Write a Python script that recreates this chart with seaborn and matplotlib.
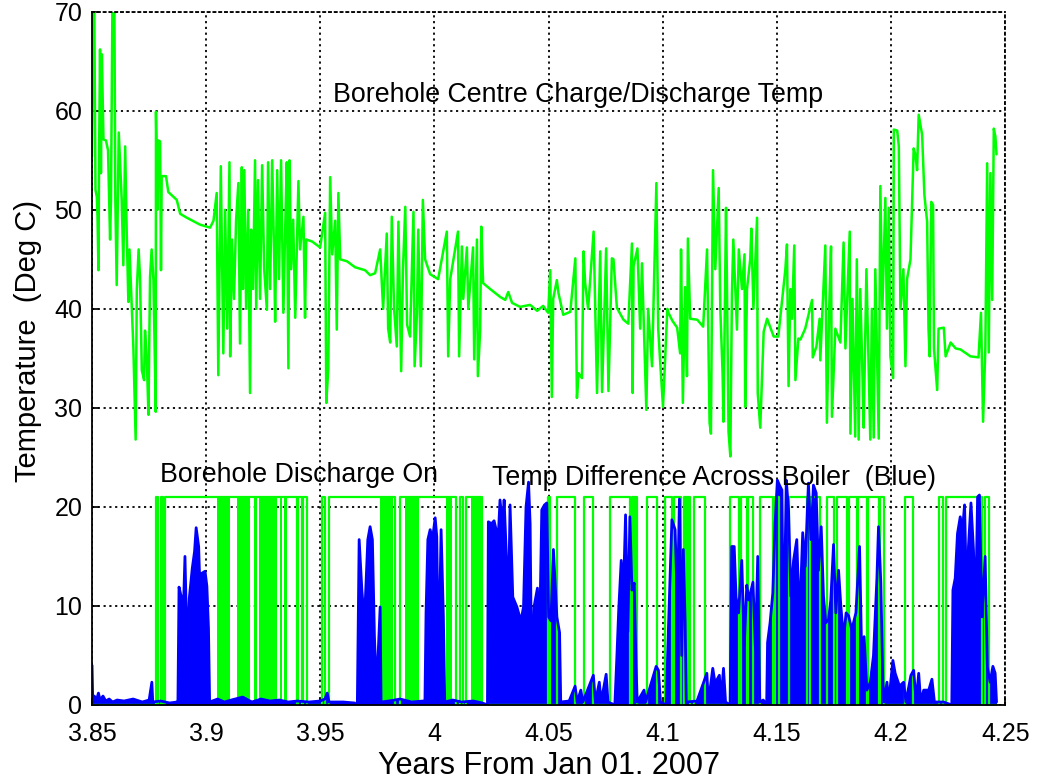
import numpy as np
import pandas as pd
import matplotlib
matplotlib.use("Agg")
import matplotlib.pyplot as plt
import seaborn as sns

sns.set_theme(style="white")
plt.rcParams['font.family'] = ['Liberation Sans', 'DejaVu Sans']
plt.rcParams['text.color'] = 'black'
plt.rcParams['axes.labelcolor'] = 'black'
plt.rcParams['xtick.color'] = 'black'
plt.rcParams['ytick.color'] = 'black'

# borehole centre charge/discharge temperature (deg C) vs years from Jan 01 2007
temp_t = [3.8500, 3.8504, 3.8510, 3.8515, 3.8521, 3.8524, 3.8528, 3.8531, 3.8535, 3.8539,
          3.8543, 3.8550, 3.8561, 3.8570, 3.8579, 3.8583, 3.8589, 3.8598, 3.8602, 3.8608,
          3.8617, 3.8630, 3.8637, 3.8645, 3.8652, 3.8659, 3.8664, 3.8674, 3.8681, 3.8691,
          3.8696, 3.8704, 3.8710, 3.8718, 3.8728, 3.8732, 3.8740, 3.8747, 3.8754, 3.8761,
          3.8769, 3.8779, 3.8780, 3.8787, 3.8791, 3.8798, 3.8802, 3.8805, 3.8824, 3.8834,
          3.8871, 3.8886, 3.8915, 3.8973, 3.9017, 3.9032,
          3.9046, 3.9053, 3.9064, 3.9070, 3.9075, 3.9083, 3.9092, 3.9102, 3.9105, 3.9113,
          3.9122, 3.9131, 3.9141, 3.9148, 3.9156, 3.9161, 3.9167, 3.9175, 3.9184, 3.9192,
          3.9197, 3.9205, 3.9214, 3.9219, 3.9227, 3.9236, 3.9245, 3.9254, 3.9266, 3.9271,
          3.9280, 3.9289, 3.9298, 3.9302, 3.9311, 3.9319, 3.9328, 3.9338, 3.9346, 3.9353,
          3.9360, 3.9365, 3.9372, 3.9381, 3.9390, 3.9404, 3.9411, 3.9426, 3.9433, 3.9438,
          3.9464, 3.9499, 3.9521, 3.9526, 3.9535, 3.9543, 3.9552, 3.9565, 3.9572, 3.9579,
          3.9587, 3.9617, 3.9652, 3.9696, 3.9718, 3.9740, 3.9762, 3.9775, 3.9791, 3.9797,
          3.9806, 3.9813, 3.9823, 3.9835, 3.9842, 3.9854, 3.9862, 3.9872, 3.9880, 3.9893,
          3.9908, 3.9913, 3.9923, 3.9929, 3.9940, 3.9949, 3.9959, 3.9981, 4.0016, 4.0054,
          4.0060, 4.0069, 4.0103, 4.0108, 4.0120, 4.0126, 4.0142, 4.0148, 4.0169, 4.0174,
          4.0186, 4.0190, 4.0200, 4.0205, 4.0213,
          4.0244, 4.0288, 4.0310, 4.0323, 4.0340, 4.0375, 4.0419, 4.0450, 4.0476,
          4.0498, 4.0507, 4.0514, 4.0520, 4.0536, 4.0543, 4.0564, 4.0595, 4.0617, 4.0624,
          4.0631, 4.0646, 4.0653, 4.0660, 4.0673, 4.0697, 4.0712, 4.0726, 4.0734, 4.0752,
          4.0762, 4.0777, 4.0784, 4.0799, 4.0828, 4.0849, 4.0865, 4.0868, 4.0872, 4.0889,
          4.0901, 4.0909, 4.0928, 4.0936, 4.0953, 4.0972, 4.0980, 4.0989, 4.1001, 4.1011,
          4.1020, 4.1025,
          4.1042, 4.1063, 4.1076, 4.1080, 4.1088, 4.1098, 4.1106, 4.1110, 4.1120, 4.1151,
          4.1177, 4.1194, 4.1205, 4.1211, 4.1220, 4.1230, 4.1245, 4.1252, 4.1262, 4.1266,
          4.1277, 4.1281, 4.1288, 4.1296, 4.1303, 4.1309, 4.1325, 4.1333, 4.1347, 4.1358,
          4.1361, 4.1369, 4.1383, 4.1388, 4.1397, 4.1413, 4.1416, 4.1427, 4.1442, 4.1457,
          4.1486, 4.1506,
          4.1537, 4.1544, 4.1551, 4.1559, 4.1566, 4.1576, 4.1581, 4.1594, 4.1603, 4.1624,
          4.1654, 4.1657, 4.1673, 4.1687, 4.1690, 4.1712, 4.1719, 4.1729, 4.1737, 4.1741,
          4.1756, 4.1778, 4.1792, 4.1800, 4.1819, 4.1822, 4.1831, 4.1843, 4.1850, 4.1858,
          4.1865, 4.1874, 4.1880, 4.1892, 4.1909, 4.1916, 4.1924, 4.1931, 4.1946,
          4.1953, 4.1962, 4.1975, 4.1982, 4.1990, 4.1997, 4.2009, 4.2012, 4.2027, 4.2034,
          4.2041, 4.2054, 4.2063, 4.2070, 4.2085, 4.2099, 4.2107, 4.2114, 4.2121, 4.2136,
          4.2146, 4.2158, 4.2164, 4.2169, 4.2176, 4.2184, 4.2188, 4.2202, 4.2208, 4.2231,
          4.2239, 4.2261, 4.2283, 4.2304, 4.2348, 4.2383, 4.2394, 4.2403, 4.2413, 4.2421,
          4.2428, 4.2435, 4.2443, 4.2450, 4.2457, 4.2462]
temp_v = [55.4, 70.0, 70.0, 52.0, 51.3, 49.3, 43.9, 56.0, 66.2, 53.7,
          65.7, 57.1, 57.0, 56.0, 47.0, 51.0, 70.0, 70.0, 51.0, 42.4,
          57.8, 51.0, 44.4, 56.4, 47.6, 40.7, 46.0, 40.1, 36.1, 26.8,
          41.9, 46.0, 43.2, 33.8, 32.8, 37.8, 34.9, 29.3, 43.2, 46.0,
          42.9, 29.6, 59.9, 50.0, 57.0, 56.9, 43.9, 53.4, 53.4, 51.8,
          51.0, 49.6, 49.2, 48.5, 48.2, 48.9,
          51.7, 33.3, 54.4, 44.0, 35.5, 50.0, 38.0, 54.8, 35.2, 47.0,
          41.0, 49.0, 52.7, 36.5, 54.3, 42.0, 54.0, 40.0, 50.0, 31.5,
          48.0, 42.0, 55.0, 40.0, 53.0, 41.0, 54.5, 44.0, 39.9, 54.8,
          42.0, 55.0, 45.0, 38.7, 54.0, 43.0, 55.0, 39.6, 48.0, 54.8,
          34.0, 55.0, 44.0, 49.0, 39.1, 52.9, 46.0, 49.3, 39.1, 47.0,
          46.8, 46.2, 49.7, 30.5, 34.0, 53.3, 45.5, 48.9, 37.9, 51.7,
          45.0, 44.8, 44.2, 43.9, 43.4, 43.6, 46.0, 40.0, 47.6, 38.0,
          36.6, 49.3, 40.0, 36.2, 48.8, 33.7, 44.0, 50.3, 38.4, 37.2,
          49.8, 34.2, 39.4, 48.0, 34.2, 51.0, 45.0, 43.5, 43.0, 47.8,
          35.2, 43.0, 47.8, 35.2, 46.3, 41.0, 46.2, 40.0, 46.2, 34.9,
          47.0, 33.2, 37.8, 48.3, 42.6,
          42.0, 41.2, 40.9, 41.7, 40.6, 40.2, 40.4, 39.8, 40.3,
          39.6, 43.9, 31.1, 41.0, 42.9, 41.6, 39.4, 39.7, 45.1, 31.0,
          33.5, 33.0, 45.8, 42.6, 40.0, 47.8, 31.5, 45.8, 31.6, 46.1,
          31.7, 45.1, 45.0, 40.1, 38.9, 38.5, 46.6, 31.5, 44.3, 46.1,
          38.0, 44.6, 29.8, 40.0, 34.2, 52.7, 38.0, 34.5, 30.1, 35.2,
          40.0, 39.6,
          38.8, 38.1, 35.5, 46.0, 30.5, 42.2, 33.2, 47.1, 39.0, 38.9,
          38.2, 46.0, 28.5, 27.4, 54.0, 44.0, 52.2, 40.0, 33.5, 28.6,
          50.2, 43.0, 27.6, 25.1, 41.6, 47.0, 37.9, 46.0, 42.0, 45.5,
          30.1, 42.0, 45.0, 48.1, 40.0, 49.2, 31.5, 28.0, 37.7, 39.0,
          37.2, 37.2,
          44.0, 46.5, 32.2, 42.0, 39.0, 46.4, 32.8, 37.0, 36.9, 38.0,
          40.9, 35.1, 36.2, 39.0, 34.8, 46.4, 28.5, 40.0, 46.3, 29.1,
          38.0, 36.6, 46.7, 36.0, 47.8, 27.4, 41.0, 27.1, 45.0, 26.8,
          42.0, 34.0, 28.0, 44.0, 26.8, 40.0, 27.0, 44.0, 26.9,
          52.4, 40.0, 51.2, 38.0, 50.2, 35.2, 33.0, 58.1, 58.0, 56.4,
          40.0, 44.0, 34.2, 43.0, 45.0, 56.2, 55.5, 54.0, 59.6, 57.6,
          51.5, 48.8, 38.0, 35.2, 50.8, 50.5, 36.0, 31.8, 38.0, 38.1,
          35.2, 36.6, 36.0, 35.9, 35.2, 35.1, 39.6, 28.6, 36.0, 54.7,
          35.6, 53.7, 40.9, 58.2, 57.4, 55.6]

# temp difference across boiler (deg C)
boiler_t = [3.8500, 3.8503, 3.8510, 3.8518, 3.8528, 3.8535, 3.8548, 3.8560, 3.8575, 3.8590,
            3.8610, 3.8640, 3.8680, 3.8720, 3.8750, 3.8762, 3.8766, 3.8800, 3.8840, 3.8872,
            3.8876, 3.8881, 3.8890, 3.8898, 3.8907, 3.8913, 3.8919, 3.8926, 3.8939, 3.8949,
            3.8956, 3.8967, 3.8975, 3.8981, 3.8995, 3.9003, 3.9010, 3.9015,
            3.9050, 3.9080, 3.9110, 3.9160, 3.9200, 3.9240, 3.9280, 3.9320, 3.9360, 3.9400,
            3.9450, 3.9500, 3.9520, 3.9530, 3.9538, 3.9600, 3.9650,
            3.9662, 3.9670, 3.9682, 3.9693, 3.9708, 3.9718, 3.9728, 3.9737, 3.9745, 3.9752,
            3.9762, 3.9766, 3.9800, 3.9850, 3.9900, 3.9950,
            3.9958, 3.9963, 3.9971, 3.9981, 3.9991, 4.0003, 4.0010, 4.0017, 4.0023, 4.0029,
            4.0039, 4.0045, 4.0080, 4.0120, 4.0170, 4.0210,
            4.0232, 4.0236, 4.0250, 4.0261, 4.0270, 4.0280, 4.0287, 4.0299, 4.0305, 4.0314,
            4.0324, 4.0331, 4.0343, 4.0361, 4.0372, 4.0378, 4.0390, 4.0401, 4.0412, 4.0419,
            4.0426, 4.0436, 4.0451, 4.0460, 4.0470, 4.0482, 4.0492, 4.0500, 4.0510, 4.0521,
            4.0536, 4.0548, 4.0553,
            4.0590, 4.0616, 4.0625, 4.0641, 4.0650, 4.0696, 4.0705, 4.0722, 4.0730, 4.0752,
            4.0760,
            4.0790, 4.0799, 4.0807, 4.0818, 4.0828, 4.0837, 4.0847, 4.0856, 4.0865, 4.0875,
            4.0883, 4.0888, 4.0918, 4.0925, 4.0971, 4.0981, 4.0990,
            4.1015, 4.1025, 4.1040, 4.1054, 4.1064, 4.1073, 4.1083, 4.1090, 4.1098, 4.1103,
            4.1150, 4.1193, 4.1200, 4.1219, 4.1229, 4.1248, 4.1255, 4.1266, 4.1275,
            4.1295, 4.1302, 4.1313, 4.1321, 4.1332, 4.1346, 4.1357, 4.1368, 4.1377, 4.1395,
            4.1406, 4.1416, 4.1425, 4.1440,
            4.1455, 4.1459, 4.1470, 4.1482, 4.1492, 4.1502, 4.1511, 4.1522, 4.1529, 4.1541,
            4.1551, 4.1561, 4.1573, 4.1587, 4.1599, 4.1613, 4.1624, 4.1638, 4.1649, 4.1660,
            4.1672, 4.1682, 4.1694, 4.1704, 4.1714, 4.1726, 4.1736, 4.1748, 4.1758, 4.1770,
            4.1780, 4.1792, 4.1803, 4.1814, 4.1828, 4.1846, 4.1862, 4.1872, 4.1882, 4.1894,
            4.1909, 4.1923, 4.1938, 4.1945, 4.1955, 4.1964, 4.1970,
            4.1982, 4.1990, 4.2008, 4.2018, 4.2037, 4.2055, 4.2065, 4.2087, 4.2099, 4.2110,
            4.2121, 4.2130, 4.2143, 4.2165, 4.2179, 4.2190, 4.2230,
            4.2266, 4.2271, 4.2281, 4.2291, 4.2303, 4.2313, 4.2322, 4.2332, 4.2339, 4.2350,
            4.2361, 4.2370, 4.2379, 4.2387, 4.2398, 4.2412, 4.2422, 4.2434, 4.2446, 4.2456,
            4.2462]
boiler_v = [4.0, 0.6, 0.9, 0.4, 1.2, 0.5, 0.9, 0.4, 0.6, 0.3,
            0.5, 0.4, 0.6, 0.3, 0.5, 2.3, 0.3, 0.4, 0.2, 0.3,
            0.0, 11.9, 11.0, 8.0, 15.0, 9.0, 6.4, 10.8, 13.8, 15.5,
            17.9, 16.0, 10.0, 13.3, 13.5, 12.0, 7.8, 0.3,
            0.6, 0.3, 0.5, 0.8, 0.3, 0.6, 0.4, 0.5, 0.3, 0.4,
            0.3, 0.4, 0.6, 1.2, 0.3, 0.3, 0.2,
            0.0, 16.7, 11.6, 8.3, 16.7, 18.0, 16.7, 6.9, 2.0, 4.5,
            9.9, 0.3, 0.4, 0.6, 0.3, 0.4,
            0.0, 9.3, 16.7, 17.7, 16.7, 18.9, 17.0, 5.2, 10.0, 17.7,
            8.9, 0.3, 0.5, 0.3, 0.4, 0.2,
            0.0, 18.5, 18.3, 18.6, 17.7, 17.3, 20.7, 18.0, 20.7, 15.7,
            10.0, 20.2, 10.9, 9.9, 9.0, 8.4, 9.9, 20.0, 22.5, 18.3,
            1.5, 9.9, 11.8, 6.2, 19.7, 20.2, 20.4, 8.9, 8.5, 15.7,
            8.9, 7.3, 0.3,
            0.4, 1.9, 0.3, 1.5, 0.3, 3.0, 0.3, 2.3, 0.3, 3.1,
            0.3,
            0.0, 4.9, 9.6, 14.6, 11.6, 19.2, 7.4, 19.0, 11.6, 12.3,
            4.0, 0.3, 1.5, 0.3, 3.9, 3.5, 0.3,
            0.0, 7.9, 18.7, 17.7, 10.0, 20.8, 5.0, 15.7, 8.4, 0.3,
            0.4, 3.2, 0.3, 3.7, 2.2, 3.0, 0.3, 3.7, 0.3,
            0.0, 16.0, 16.0, 10.9, 9.3, 14.6, 6.0, 12.1, 10.6, 12.4,
            5.6, 15.0, 0.3, 0.5,
            0.0, 6.3, 8.3, 11.3, 18.3, 22.7, 22.2, 21.7, 5.0, 22.7,
            19.7, 11.0, 14.6, 16.7, 8.3, 17.4, 14.0, 22.4, 16.7, 22.2,
            21.4, 13.6, 18.0, 11.0, 8.3, 8.6, 10.6, 16.2, 9.3, 13.6,
            10.0, 6.7, 9.3, 9.0, 7.6, 9.3, 16.0, 4.3, 6.9, 1.5,
            2.3, 5.0, 12.8, 18.0, 12.4, 2.3, 0.3,
            2.3, 0.3, 4.5, 3.2, 1.9, 2.3, 0.3, 3.0, 3.5, 0.3,
            3.2, 0.3, 1.5, 1.5, 2.6, 0.3, 0.3,
            0.0, 11.6, 12.8, 17.3, 19.0, 17.7, 20.2, 9.6, 16.0, 20.4,
            15.7, 8.9, 21.0, 21.2, 8.9, 15.0, 3.8, 2.3, 3.9, 3.2,
            0.3]

# borehole discharge on/off signal: periods when on (drawn at level 21)
on_start = [3.8780, 3.8801, 3.8820, 3.9401, 3.9426, 3.9506, 3.9540, 3.9849, 4.0110, 4.0139,
            4.0499, 4.0536, 4.0653, 4.0769, 4.0864, 4.0930, 4.1010, 4.1050, 4.1091, 4.1135,
            4.1295, 4.1342, 4.1375, 4.1424, 4.1492, 4.1551, 4.1646, 4.1719, 4.1762, 4.1814,
            4.1857, 4.1901, 4.1952, 4.2062, 4.2208, 4.2242, 4.2412]
on_end = [3.8790, 3.8812, 3.9397, 3.9419, 3.9441, 3.9521, 3.9828, 4.0095, 4.0127, 4.0207,
          4.0507, 4.0616, 4.0696, 4.0857, 4.0886, 4.0974, 4.1040, 4.1080, 4.1120, 4.1185,
          4.1332, 4.1368, 4.1397, 4.1485, 4.1507, 4.1631, 4.1689, 4.1748, 4.1806, 4.1850,
          4.1894, 4.1945, 4.1967, 4.2096, 4.2227, 4.2398, 4.2427]
# stretches where the signal switches too fast to resolve
burst_start = [3.9046, 3.9134, 3.9211, 3.9233, 3.9324, 3.9341, 3.9762, 3.9871, 4.0051, 4.0159,
               4.0864, 4.1091]
burst_end = [3.9105, 3.9192, 3.9221, 3.9312, 3.9331, 3.9353, 3.9820, 3.9930, 4.0076, 4.0207,
             4.0886, 4.1120]
on_level = 21

sig_t = [3.85]
sig_v = [0]
for a, b in zip(on_start, on_end):
    sig_t += [a, a, b, b]
    sig_v += [0, on_level, on_level, 0]
sig_t.append(4.2465)
sig_v.append(0)

green = "#00ff00"
blue = "#0000ff"

fig = plt.figure(figsize=(10.46, 7.82), dpi=100)
ax = fig.add_axes([0.088, 0.0985, 0.873, 0.8865])

sig = pd.DataFrame({"t": sig_t, "v": sig_v})
sns.lineplot(data=sig, x="t", y="v", sort=False, estimator=None, color=green, lw=1.6, ax=ax)
for a, b in zip(burst_start, burst_end):
    ax.fill_between([a, b], 0, on_level, color=green, lw=0)

boiler = pd.DataFrame({"t": boiler_t, "v": boiler_v})
ax.fill_between(boiler["t"], 0, boiler["v"], color=blue, lw=0)
sns.lineplot(data=boiler, x="t", y="v", sort=False, estimator=None, color=blue, lw=2, ax=ax)

temp = pd.DataFrame({"t": temp_t, "v": temp_v})
sns.lineplot(data=temp, x="t", y="v", sort=False, estimator=None, color=green, lw=1.8, ax=ax)

ax.set_xlim(3.85, 4.25)
ax.set_ylim(0, 70)
xt = [3.85, 3.9, 3.95, 4.0, 4.05, 4.1, 4.15, 4.2, 4.25]
ax.set_xticks(xt)
ax.set_xticklabels(["3.85", "3.9", "3.95", "4", "4.05", "4.1", "4.15", "4.2", "4.25"])
ax.set_yticks(range(0, 71, 10))
ax.tick_params(labelsize=18, direction="in", length=5, color="black",
               left=True, bottom=True)
ax.tick_params(axis="x", pad=12)
ax.tick_params(axis="y", pad=7)
ax.grid(True, color="black", linestyle=(0, (1.2, 2)), lw=1.3)
for s in ["top", "right"]:
    ax.spines[s].set_linestyle((0, (1.2, 2)))
for s in ax.spines.values():
    s.set_color("black")
    s.set_linewidth(1.3)

ax.set_xlabel("Years From Jan 01. 2007", fontsize=22)
ax.xaxis.label.set_va("center")
ax.xaxis.set_label_coords(0.5, -0.088)
ax.set_ylabel("Temperature  (Deg C)", fontsize=21)
ax.yaxis.set_label_coords(-0.055, 0.525)

ax.text(3.9556, 61.6, "Borehole Centre Charge/Discharge Temp", fontsize=19.3, va="center")
ax.text(3.8798, 23.2, "Borehole Discharge On", fontsize=19.3, va="center")
ax.text(4.0252, 22.9, "Temp Difference Across Boiler  (Blue)", fontsize=19.3, va="center")

fig.savefig("out.png", dpi=100)
